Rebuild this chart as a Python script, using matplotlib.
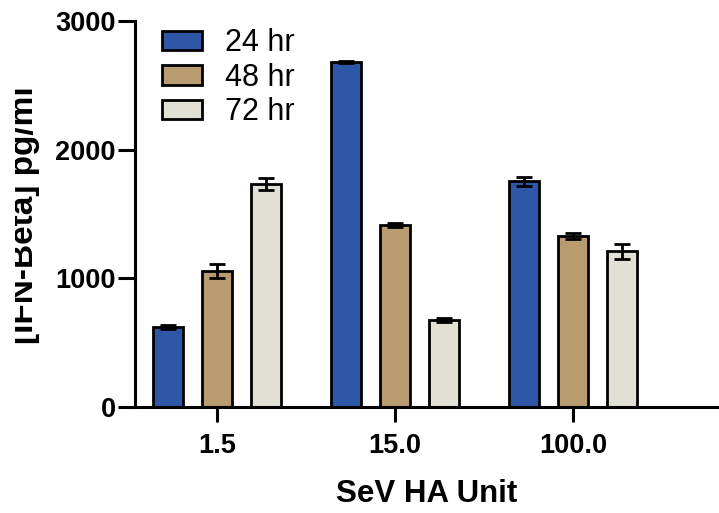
import matplotlib.pyplot as plt
import numpy as np
from matplotlib.transforms import Bbox

plt.rcParams['font.family'] = 'Liberation Sans'

doses = ["1.5", "15.0", "100.0"]
series = ["24 hr", "48 hr", "72 hr"]
vals_24 = [625, 2680, 1755]
vals_48 = [1055, 1415, 1330]
vals_72 = [1735, 675, 1210]
err_24 = [15, 10, 35]
err_48 = [55, 15, 25]
err_72 = [45, 15, 60]
colors = ["#2f57a7", "#b89b6e", "#e2dfd5"]

fig = plt.figure(figsize=(7.19, 5.13), dpi=100)
ax = fig.add_axes([135 / 719, 1 - 407 / 513, 1 - 135 / 719, (407 - 21) / 513])

x = np.arange(len(doses))
offset = 0.275
width = 0.168
all_vals = [vals_24, vals_48, vals_72]
all_errs = [err_24, err_48, err_72]
for i in range(3):
    xs = x + (i - 1) * offset
    ax.bar(xs, all_vals[i], width, color=colors[i], edgecolor="black",
           linewidth=2.0, label=series[i], zorder=2)
    ax.errorbar(xs, all_vals[i], yerr=all_errs[i], fmt="none", ecolor="black",
                elinewidth=2.0, capsize=5.5, capthick=2.0, zorder=3)

ax.set_xlim(-0.46, 2.82)
ax.set_ylim(0, 3000)
ax.set_yticks([0, 1000, 2000, 3000])
ax.set_xticks(x)
ax.set_xticklabels(doses)
for s in ["top", "right"]:
    ax.spines[s].set_visible(False)
for s in ["left", "bottom"]:
    ax.spines[s].set_linewidth(2.2)
    ax.spines[s].set_capstyle("projecting")
ax.tick_params(axis="both", width=2.2, labelsize=19.5)
ax.tick_params(axis="y", length=12, pad=2)
ax.tick_params(axis="x", length=11, pad=8)
for lab in ax.get_xticklabels() + ax.get_yticklabels():
    lab.set_fontweight("bold")

ax.set_xlabel("SeV HA Unit", fontsize=22.5, fontweight="bold", labelpad=14)

# y label is cropped on the left in the original picture
ylab = fig.text(33 / 719, 1 - 215 / 513, "[IFN-Beta] pg/ml", rotation=90,
                fontsize=24, fontweight="bold", ha="center", va="baseline",
                rotation_mode="anchor")
ylab.set_clip_box(Bbox.from_extents(15, 0, 200, 513))
ylab.set_clip_on(True)

ax.legend(loc="upper left", bbox_to_anchor=(162 / 719, 1 - 28 / 513),
          bbox_transform=fig.transFigure, frameon=False, borderpad=0,
          borderaxespad=0, fontsize=22, handlelength=1.3, handleheight=0.6,
          handletextpad=0.75, labelspacing=0.15)

plt.savefig("out.png", dpi=100)
